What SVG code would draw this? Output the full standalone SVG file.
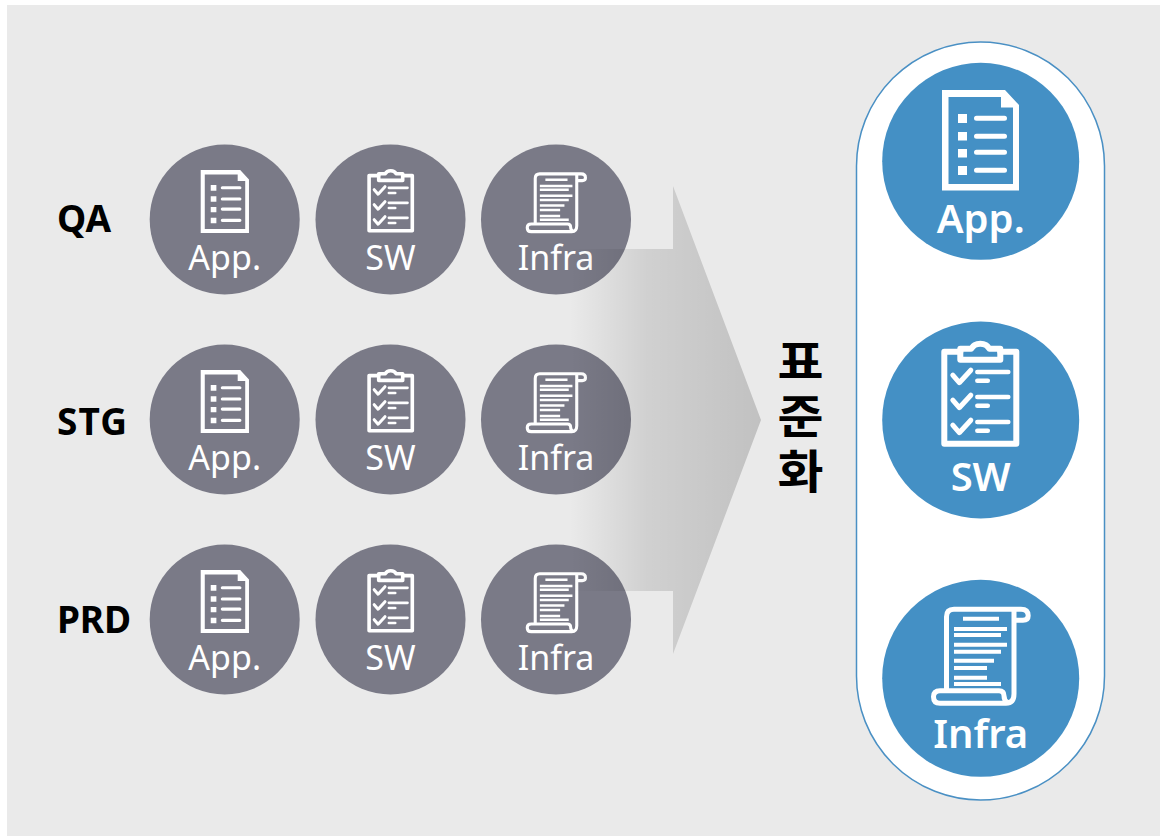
<svg xmlns="http://www.w3.org/2000/svg" xmlns:xlink="http://www.w3.org/1999/xlink" width="1166" height="836" viewBox="0 0 1166 836">
<style>
.c{fill:#7a7a87}
.b{fill:#4490c5}
.t{font-family:"Noto Sans","Open Sans",sans-serif;fill:#fff;text-anchor:middle}
.s{font-size:34px}
.l{font-size:40px;font-weight:600}
.k{font-family:"Noto Sans","Noto Sans CJK KR",sans-serif;font-weight:700;font-size:37px;fill:#000}
.h{font-family:"Noto Sans CJK KR",sans-serif;font-weight:700;font-size:50px;fill:#000;writing-mode:vertical-rl;letter-spacing:9.5px}
.w{fill:none;stroke:#fff;stroke-linecap:round;stroke-linejoin:round}
</style>
<defs>
<linearGradient id="g" gradientUnits="userSpaceOnUse" x1="570" y1="0" x2="761" y2="0">
<stop offset="0" stop-color="#000" stop-opacity="0"/>
<stop offset="0.4" stop-color="#000" stop-opacity="0.11"/>
<stop offset="1" stop-color="#000" stop-opacity="0.175"/>
</linearGradient>
<g id="iApp">
<path fill="#fff" fill-rule="evenodd" d="M0 0H63L77 15V100.5H0ZM6.500 7V94H71V17.500H59V7Z"/>
<path fill="#fff" d="M16 24h9v9h-9zM16 42h9v8.500h-9zM16 59h9v8.500h-9zM16 76h9v9h-9z"/>
<path class="w" stroke-width="5" d="M34.500 28.300H62.500M34.500 46.300H62.500M34.500 62.300H62.500M34.500 80.300H62.500"/>
</g>
<g id="iSw">
<path class="w" stroke-width="6" stroke-linecap="butt" d="M19 11H3V103H75V11H59"/>
<path class="w" stroke-width="6" d="M19 8H30C32 4 35 3 39 3C43 3 46 4 48 8H59V19H19Z"/>
<g id="chk">
<path class="w" stroke-width="5" d="M11.500 34.500L18 42L29.500 29.500"/>
<path class="w" stroke-width="4.500" d="M36 31.300H67M36 40H46.500"/>
</g>
<use xlink:href="#chk" href="#chk" y="25"/>
<use xlink:href="#chk" href="#chk" y="50"/>
</g>
<g id="iInfra">
<path class="w" stroke-width="5" d="M15.500 84V10Q15.500 2.500 23 2.500H90Q97.200 2.500 97.200 9Q97.200 13.500 92 13.500H83M83 10V5M83 10V87Q83 96.500 75 96.500H9Q2.500 96.500 2.500 90Q2.500 84 9 84H68Q73 84 73 89Q73 94 77 96"/>
<path fill="#fff" d="M32 10h36v4H32zM23 20.300h53v4H23zM23 26.300h47v4H23zM23 36h53v4H23zM23 43h47v4H23zM23 52h40v4H23zM23 59.300h33v4H23zM23 69h33v4H23zM23 75.300h47v4H23z"/>
</g>
</defs>
<rect x="7" y="5" width="1153" height="831" fill="#eaeaea"/>
<text class="k" x="57" y="232">QA</text>
<text class="k" x="57" y="435" textLength="70">STG</text>
<text class="k" x="57" y="633" textLength="74">PRD</text>
<g id="qa-app"><circle class="c" cx="224.700" cy="219.500" r="75"/><use href="#iApp" transform="translate(200.700 170) scale(.627)"/><text class="t s" x="224.700" y="270">App.</text></g>
<g id="qa-sw"><circle class="c" cx="390.500" cy="219.500" r="75"/><use href="#iSw" transform="translate(367.300 169) scale(.6)"/><text class="t s" x="390.500" y="270">SW</text></g>
<g id="qa-infra"><circle class="c" cx="556" cy="219.500" r="75"/><use href="#iInfra" transform="translate(525.700 172.300) scale(.615)"/><text class="t s" x="556" y="270">Infra</text></g>
<g id="stg-app"><circle class="c" cx="224.700" cy="419.500" r="75"/><use href="#iApp" transform="translate(200.700 370) scale(.627)"/><text class="t s" x="224.700" y="470">App.</text></g>
<g id="stg-sw"><circle class="c" cx="390.500" cy="419.500" r="75"/><use href="#iSw" transform="translate(367.300 369) scale(.6)"/><text class="t s" x="390.500" y="470">SW</text></g>
<g id="stg-infra"><circle class="c" cx="556" cy="419.500" r="75"/><use href="#iInfra" transform="translate(525.700 372.300) scale(.615)"/><text class="t s" x="556" y="470">Infra</text></g>
<g id="prd-app"><circle class="c" cx="224.700" cy="619.500" r="75"/><use href="#iApp" transform="translate(200.700 570) scale(.627)"/><text class="t s" x="224.700" y="670">App.</text></g>
<g id="prd-sw"><circle class="c" cx="390.500" cy="619.500" r="75"/><use href="#iSw" transform="translate(367.300 569) scale(.6)"/><text class="t s" x="390.500" y="670">SW</text></g>
<g id="prd-infra"><circle class="c" cx="556" cy="619.500" r="75"/><use href="#iInfra" transform="translate(525.700 572.300) scale(.615)"/><text class="t s" x="556" y="670">Infra</text></g>
<g id="connectors"><path fill="url(#g)" d="M570 249H673V186L761 420L673 654V591H570Z"/></g>
<g id="label-standard"><text class="h" transform="translate(800.500 338) scale(1 .92)">표준화</text></g>
<g id="pill"><rect x="856.500" y="42" width="248" height="758" rx="124" fill="#fff" stroke="#4a90c4" stroke-width="1.500"/></g>
<g id="std-app"><circle class="b" cx="980.700" cy="161.300" r="98.500"/><use href="#iApp" transform="translate(942 90)"/><text class="t l" x="980.700" y="233">App.</text></g>
<g id="std-sw"><circle class="b" cx="980.700" cy="420" r="98.500"/><use href="#iSw" transform="translate(941.300 340.700)"/><text class="t l" x="980.700" y="491">SW</text></g>
<g id="std-infra"><circle class="b" cx="980.700" cy="678.300" r="98.500"/><use href="#iInfra" transform="translate(931 606.700)"/><text class="t l" x="980.700" y="748">Infra</text></g>
</svg>
